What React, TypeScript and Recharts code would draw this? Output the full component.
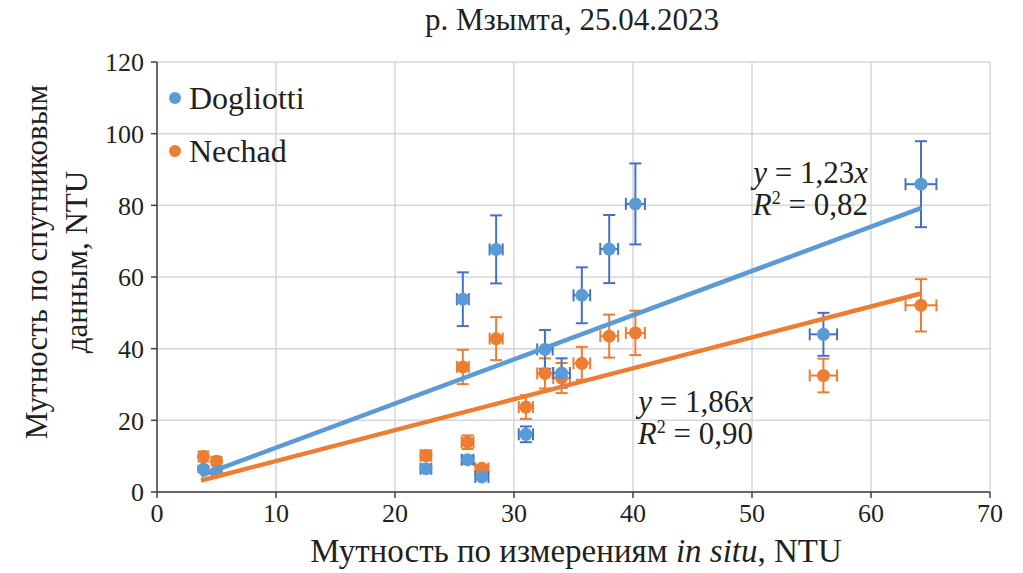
import React from 'react';
import { ScatterChart, Scatter, XAxis, YAxis, CartesianGrid, ErrorBar } from 'recharts';

// мутность in situ, NTU (ось X)
const inSitu = [3.9, 5.0, 22.6, 25.7, 26.1, 27.3, 28.5, 31.0, 32.6, 34.0, 35.7, 38.0, 40.2, 56.0, 64.2];
const inSituErr = [0.1, 0.1, 0.45, 0.5, 0.5, 0.55, 0.55, 0.6, 0.65, 0.7, 0.7, 0.75, 0.8, 1.15, 1.3];

// спутниковые оценки
const dogliotti = [6.4, 5.6, 6.5, 53.8, 9.0, 4.2, 67.7, 16.1, 39.8, 33.2, 54.9, 67.8, 80.4, 44.0, 85.9];
const dogliottiErr = [0.8, 0.7, 0.8, 7.5, 1.1, 0.5, 9.5, 2.2, 5.4, 4.1, 7.8, 9.5, 11.3, 6.0, 12.0];
const nechad = [9.9, 8.6, 10.2, 34.9, 13.9, 6.6, 42.8, 23.7, 33.1, 31.8, 35.9, 43.5, 44.4, 32.5, 52.1];
const nechadErr = [1.4, 1.2, 1.4, 4.8, 1.9, 0.9, 6.0, 3.3, 4.2, 4.2, 4.6, 6.0, 6.2, 4.7, 7.3];

// линии тренда
const trendX = [3.7, 64.2];
const dogliottiTrend = [4.6, 79.2];
const nechadTrend = [3.2, 55.4];

const xTicks = [0, 10, 20, 30, 40, 50, 60, 70];
const yTicks = [0, 20, 40, 60, 80, 100, 120];

const BLUE = '#5B9BD5';
const BLUE_ERR = '#4472C4';
const ORANGE = '#ED7D31';
const FONT = '"Liberation Serif", "Times New Roman", serif';

const toPoints = (ys: number[], errs: number[]) =>
  inSitu.map((x, i) => ({ x, y: ys[i], ex: inSituErr[i], ey: errs[i] }));

const toLine = (ys: number[]) => trendX.map((x, i) => ({ x, y: ys[i] }));

const dot = (color: string) => (props: any) =>
  <circle cx={props.cx} cy={props.cy} r={6.5} fill={color} />;

const tickStyle = { fontFamily: FONT, fontSize: 26, fill: '#231f20' };

const Label = ({ left, top, children, size = 32 }: any) => (
  <div
    style={{
      position: 'absolute',
      left,
      top,
      fontFamily: FONT,
      fontSize: size,
      lineHeight: 1,
      color: '#231f20',
      whiteSpace: 'nowrap',
    }}
  >
    {children}
  </div>
);

const Equation = ({ right, top, k, r2 }: any) => (
  <div
    style={{
      position: 'absolute',
      left: right - 200,
      top,
      width: 200,
      textAlign: 'right',
      fontFamily: FONT,
      fontSize: 31,
      lineHeight: '32px',
      color: '#231f20',
      whiteSpace: 'nowrap',
    }}
  >
    <div>
      <i>y</i> = {k}<i>x</i>
    </div>
    <div>
      <i>R</i>
      <span style={{ fontSize: 18, lineHeight: 1, position: 'relative', top: -11 }}>2</span> = {r2}
    </div>
  </div>
);

export default function App() {
  return (
    <div style={{ position: 'absolute', left: 0, top: 0, width: 1023, height: 573, background: '#fff' }}>
      <ScatterChart width={1023} height={573} margin={{ top: 62, right: 33, bottom: 51, left: 97 }}>
        <CartesianGrid stroke="#d6d6d6" strokeWidth={1.5} />
        <XAxis
          type="number"
          dataKey="x"
          domain={[0, 70]}
          ticks={xTicks}
          stroke="#404040"
          strokeWidth={1.5}
          tickSize={6}
          tickMargin={6}
          tick={tickStyle}
          interval={0}
        />
        <YAxis
          type="number"
          dataKey="y"
          domain={[0, 120]}
          ticks={yTicks}
          width={60}
          stroke="#404040"
          strokeWidth={1.5}
          tickSize={6}
          tickMargin={7}
          tick={tickStyle}
          interval={0}
        />
        <Scatter data={toPoints(nechad, nechadErr)} shape={dot(ORANGE)} isAnimationActive={false}>
          <ErrorBar dataKey="ey" direction="y" width={6} stroke={ORANGE} strokeWidth={2} />
          <ErrorBar dataKey="ex" direction="x" width={6} stroke={ORANGE} strokeWidth={2} />
        </Scatter>
        <Scatter data={toPoints(dogliotti, dogliottiErr)} shape={dot(BLUE)} isAnimationActive={false}>
          <ErrorBar dataKey="ey" direction="y" width={6} stroke={BLUE_ERR} strokeWidth={2} />
          <ErrorBar dataKey="ex" direction="x" width={6} stroke={BLUE_ERR} strokeWidth={2} />
        </Scatter>
        <Scatter
          data={toLine(dogliottiTrend)}
          line={{ stroke: BLUE, strokeWidth: 4.5 }}
          shape={() => <g />}
          isAnimationActive={false}
        />
        <Scatter
          data={toLine(nechadTrend)}
          line={{ stroke: ORANGE, strokeWidth: 4.5 }}
          shape={() => <g />}
          isAnimationActive={false}
        />
      </ScatterChart>

      <Label left={0} top={4} size={31}>
        <div style={{ width: 1144, textAlign: 'center' }}>р. Мзымта, 25.04.2023</div>
      </Label>

      {/* легенда */}
      <div style={{ position: 'absolute', left: 169, top: 92, width: 12, height: 12, borderRadius: 6, background: BLUE }} />
      <Label left={189} top={82}>Dogliotti</Label>
      <div style={{ position: 'absolute', left: 169, top: 145, width: 12, height: 12, borderRadius: 6, background: ORANGE }} />
      <Label left={189} top={135}>Nechad</Label>

      {/* уравнения регрессии */}
      <Equation right={868} top={157} k="1,23" r2="0,82" />
      <Equation right={753} top={386} k="1,86" r2="0,90" />

      {/* подписи осей */}
      <Label left={0} top={535} size={33}>
        <div style={{ width: 1152, textAlign: 'center' }}>
          Мутность по измерениям <i>in situ</i>, NTU
        </div>
      </Label>
      <div style={{ position: 'absolute', left: 57, top: 262, width: 0, height: 0 }}>
        <div
          style={{
            position: 'absolute',
            transform: 'translate(-50%, -50%) rotate(-90deg)',
            fontFamily: FONT,
            fontSize: 31,
            lineHeight: '40px',
            color: '#231f20',
            textAlign: 'center',
            whiteSpace: 'nowrap',
          }}
        >
          Мутность по спутниковым
          <br />
          данным, NTU
        </div>
      </div>
    </div>
  );
}
